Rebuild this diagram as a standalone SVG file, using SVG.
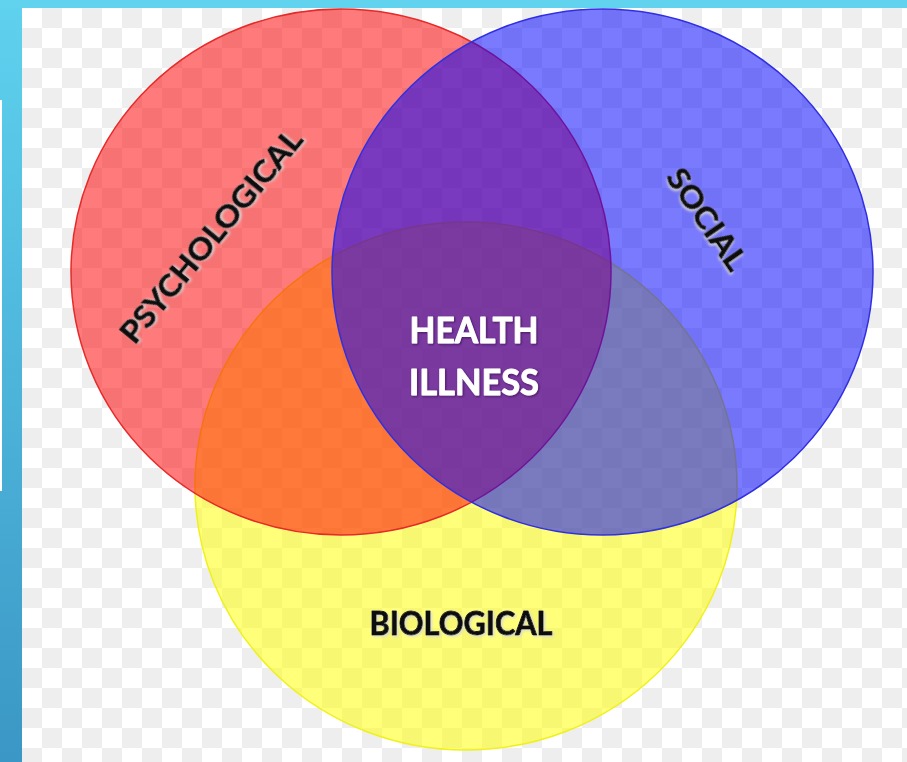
<svg xmlns="http://www.w3.org/2000/svg" width="907" height="762" viewBox="0 0 907 762">
  <defs>
    <pattern id="checker" x="22" y="8" width="40" height="40" patternUnits="userSpaceOnUse">
      <rect width="40" height="40" fill="#ffffff"/>
      <rect x="20" y="0" width="20" height="20" fill="#eeeeee"/>
      <rect x="0" y="20" width="20" height="20" fill="#eeeeee"/>
    </pattern>
    <linearGradient id="side" x1="0" y1="0" x2="0" y2="1">
      <stop offset="0" stop-color="#5fd2ef"/>
      <stop offset="1" stop-color="#3b97c5"/>
    </linearGradient>
    <filter id="lightShadow" x="-10%" y="-30%" width="120%" height="160%">
      <feDropShadow dx="1.5" dy="1.5" stdDeviation="0.8" flood-color="#d8d8d8" flood-opacity="0.9"/>
    </filter>
    <filter id="darkShadow" x="-10%" y="-30%" width="120%" height="160%">
      <feDropShadow dx="1" dy="1" stdDeviation="0.8" flood-color="#3a1050" flood-opacity="0.8"/>
    </filter>
  </defs>
  <style>
    .lbl { font-family: Lato, "Open Sans", "Liberation Sans", sans-serif; font-weight: 700; stroke-width: 0.9; stroke-linejoin: round; }
    .dark { fill: #111111; stroke: #111111; filter: url(#lightShadow); }
    .light { fill: #ffffff; stroke: #ffffff; filter: url(#darkShadow); }
  </style>

  <!-- background -->
  <rect x="0" y="0" width="907" height="762" fill="url(#checker)"/>
  <rect x="0" y="0" width="22" height="762" fill="url(#side)"/>
  <rect x="0" y="0" width="907" height="8" fill="#62d3ef"/>
  <rect x="0" y="100" width="2" height="391" fill="#ffffff"/>

  <g id="biological">
    <ellipse cx="466" cy="486" rx="271" ry="264" fill="#ffff00" fill-opacity="0.52" stroke="#f0f020" stroke-width="1.5"/>
    <text class="lbl dark" x="461" y="635" font-size="32" text-anchor="middle" textLength="183" lengthAdjust="spacingAndGlyphs">BIOLOGICAL</text>
  </g>

  <g id="psychological">
    <ellipse cx="341" cy="272" rx="270" ry="263" fill="#ff0000" fill-opacity="0.52" stroke="#e52a2a" stroke-width="1.5"/>
    <text class="lbl dark" transform="translate(211,236) rotate(-50.4)" x="0" y="11" font-size="30" text-anchor="middle" textLength="266" lengthAdjust="spacingAndGlyphs">PSYCHOLOGICAL</text>
  </g>

  <g id="social">
    <ellipse cx="602.5" cy="272" rx="270.5" ry="263" fill="#0000ff" fill-opacity="0.52" stroke="#3030e0" stroke-width="1.5"/>
    <text class="lbl dark" transform="translate(707,219) rotate(55.4)" x="0" y="11" font-size="30" text-anchor="middle" textLength="116" lengthAdjust="spacingAndGlyphs">SOCIAL</text>
  </g>

  <g id="health-illness">
    <text class="lbl light" x="474" y="343" font-size="36" text-anchor="middle" textLength="129" lengthAdjust="spacingAndGlyphs">HEALTH</text>
    <text class="lbl light" x="474" y="395" font-size="36" text-anchor="middle" textLength="130" lengthAdjust="spacingAndGlyphs">ILLNESS</text>
  </g>

  <g id="connectors"/>
</svg>
